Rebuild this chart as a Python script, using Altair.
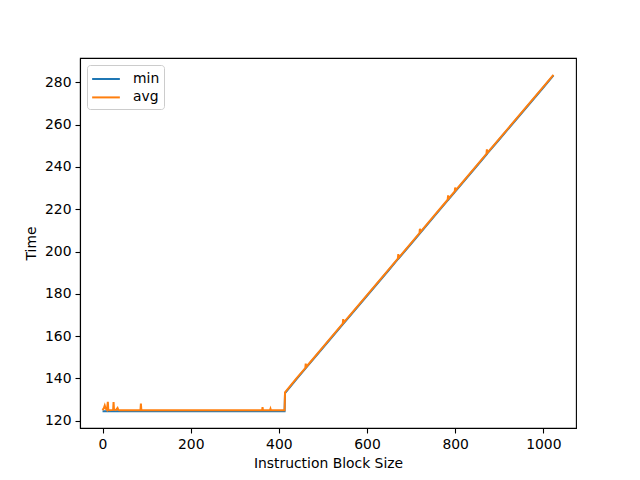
import altair as alt
import pandas as pd

block_size = [0, 3, 5, 7, 10, 12, 13, 15, 24, 25, 26, 30, 34, 36, 40, 60, 86, 87, 88,
              120, 160, 200, 240, 280, 320, 362, 363, 364, 380, 381, 382, 413,
              414, 440, 460, 461, 462, 500, 545, 546, 547, 600, 650, 670, 671, 672,
              700, 719, 720, 721, 750, 783, 784, 785, 799, 800, 801, 850, 871, 872,
              873, 900, 950, 1000, 1023]

min_time = [124.5, 124.5, 124.5, 124.5, 124.5, 124.5, 124.5, 124.5, 124.5, 124.5, 124.5,
            124.5, 124.5, 124.5, 124.5, 124.5, 124.5, 124.5, 124.5,
            124.5, 124.5, 124.5, 124.5, 124.5, 124.5, 124.5, 124.5, 124.5, 124.5, 124.5,
            124.5, 124.5,
            133.0, 139.7, 144.6, 144.9, 145.1, 154.5, 165.6, 165.8, 166.1, 179.1, 191.4,
            196.4, 196.6, 196.8, 203.7, 208.4, 208.7, 208.9, 216.1, 224.2, 224.4, 224.7,
            228.1, 228.4, 228.6, 240.7, 245.9, 246.1, 246.4, 253.0, 265.3, 277.6, 283.3]

avg_time = [125.0, 126.0, 127.2, 125.8, 125.1, 128.9, 125.2, 125.0, 125.1, 128.8, 125.3,
            125.0, 126.0, 125.0, 124.9, 124.9, 124.9, 128.1, 125.0,
            124.9, 125.0, 124.9, 124.9, 124.9, 124.9, 124.9, 126.4, 124.9, 125.0, 125.6,
            124.9, 124.9,
            133.4, 140.0, 144.9, 147.0, 145.4, 154.8, 165.9, 168.0, 166.4, 179.4, 191.7,
            196.7, 198.8, 197.1, 204.0, 208.7, 210.8, 209.2, 216.4, 224.5, 226.6, 225.0,
            228.4, 230.3, 228.9, 241.0, 246.2, 248.3, 246.7, 253.3, 265.6, 277.9, 283.6]

series_names = ["min", "avg"]
series_colors = ["#1f77b4", "#ff7f0e"]
x_ticks = [0, 200, 400, 600, 800, 1000]
y_ticks = [120, 140, 160, 180, 200, 220, 240, 260, 280]

df = pd.concat([
    pd.DataFrame({"size": block_size, "time": min_time, "series": "min"}),
    pd.DataFrame({"size": block_size, "time": avg_time, "series": "avg"}),
], ignore_index=True)

x_enc = alt.X("size:Q", title="Instruction Block Size",
              scale=alt.Scale(domain=[-51.15, 1074.15], nice=False, zero=False),
              axis=alt.Axis(values=x_ticks, format="d"))
y_enc = alt.Y("time:Q", title="Time",
              scale=alt.Scale(domain=[116.55, 291.55], nice=False, zero=False),
              axis=alt.Axis(values=y_ticks, format="d"))
c_enc = alt.Color("series:N", title=None,
                  scale=alt.Scale(domain=series_names, range=series_colors),
                  legend=alt.Legend(orient="none", legendX=7, legendY=7,
                                    symbolType="M-1.6,0H1.6", symbolSize=300,
                                    symbolStrokeWidth=2, symbolOffset=5,
                                    labelOffset=17, padding=4, rowPadding=1.4,
                                    strokeColor="#cccccc", fillColor="white",
                                    cornerRadius=3, labelFontSize=13.9,
                                    labelFont="DejaVu Sans", labelColor="black"))

base = alt.Chart(df)
min_line = base.transform_filter(alt.datum.series == "min").mark_line(strokeWidth=2).encode(
    x=x_enc, y=y_enc, color=c_enc)
avg_line = base.transform_filter(alt.datum.series == "avg").mark_line(strokeWidth=2).encode(
    x=x_enc, y=y_enc, color=c_enc)

chart = alt.layer(min_line, avg_line).properties(
    width=496, height=370,
    autosize=alt.AutoSizeParams(type="none"),
    padding={"left": 72, "top": 50, "right": 56, "bottom": 45},
    background="white",
).configure_view(
    stroke="black", strokeWidth=1.1
).configure_axis(
    grid=False, domainColor="black", domainWidth=1.1, tickColor="black",
    tickWidth=1.1, tickSize=5, labelPadding=4, labelFont="DejaVu Sans",
    labelFontSize=13.9, labelColor="black", titleFont="DejaVu Sans",
    titleFontSize=13.9, titleFontWeight="normal", titleColor="black",
    titlePadding=6
)

chart.save("out.html", embed_options={"renderer": "svg", "actions": False})
